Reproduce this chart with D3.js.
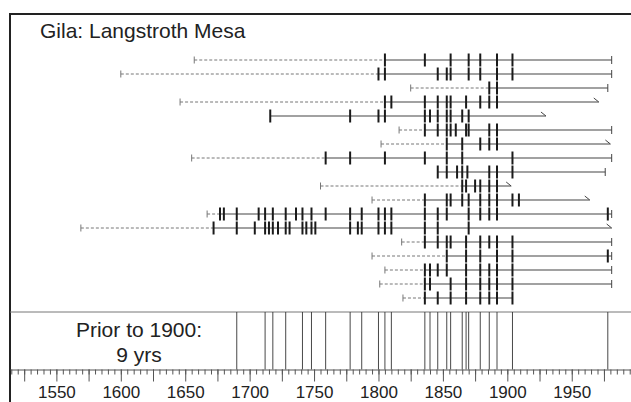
<!DOCTYPE html>
<html>
<head>
<meta charset="utf-8">
<script src="https://cdn.jsdelivr.net/npm/d3@7"></script>
<style>
  body { margin: 0; background: #fff; }
  svg { display: block; font-family: "Liberation Sans", Arial, sans-serif; }
</style>
</head>
<body>
<svg id="chart" width="631" height="402"></svg>
<script>
// site title and summary
const siteName = "Gila: Langstroth Mesa";
const summaryLines = ["Prior to 1900:", "9 yrs"];

// one entry per tree, top to bottom
const innerYears = [1657, 1600, 1825, 1646, 1716, 1816, 1802, 1655, 1846, 1755, 1795, 1667, 1569, 1818, 1795, 1805, 1801, 1819];
const outerYears = [1981, 1981, 1978, 1971, 1930, 1981, 1980, 1981, 1976, 1903, 1964, 1981, 1981, 1981, 1981, 1981, 1981, 1904];
// "bark" = vertical end bar, "nobark" = slanted end, "none" = no mark
const outerTypes = ["bark", "bark", "bark", "nobark", "nobark", "bark", "nobark", "bark", "bark", "nobark", "nobark", "bark", "nobark", "bark", "bark", "bark", "bark", "none"];
const scarYears = [
  [1805, 1836, 1856, 1870, 1879, 1892, 1904],
  [1800, 1805, 1846, 1853, 1856, 1870, 1879, 1892, 1904],
  [1886, 1892],
  [1805, 1810, 1836, 1846, 1853, 1856, 1868, 1879, 1886, 1892],
  [1716, 1778, 1800, 1805, 1836, 1840, 1846, 1853, 1856, 1865, 1870],
  [1836, 1846, 1853, 1856, 1860, 1868, 1870, 1886, 1892],
  [1853, 1865, 1879, 1886, 1892],
  [1759, 1778, 1805, 1836, 1853, 1865, 1904],
  [1846, 1853, 1861, 1865, 1869, 1886, 1892, 1904],
  [1865, 1868, 1875, 1879, 1886, 1892],
  [1836, 1853, 1856, 1865, 1870, 1879, 1886, 1892, 1904, 1909],
  [1677, 1680, 1690, 1707, 1712, 1718, 1728, 1736, 1741, 1748, 1759, 1778, 1787, 1800, 1805, 1810, 1836, 1846, 1853, 1870, 1879, 1886, 1892, 1978],
  [1672, 1690, 1704, 1712, 1715, 1718, 1722, 1728, 1731, 1741, 1744, 1748, 1751, 1778, 1784, 1787, 1800, 1805, 1810, 1836, 1846, 1870],
  [1836, 1846, 1853, 1856, 1868, 1879, 1886, 1892, 1904],
  [1853, 1868, 1879, 1892, 1904, 1978],
  [1836, 1840, 1846, 1853, 1868, 1879, 1886, 1892, 1904],
  [1836, 1840, 1856, 1868, 1879, 1886, 1892, 1904],
  [1836, 1846, 1856, 1868, 1879, 1886, 1892, 1904]
];

// composite fire years
const compositeYears = [1690, 1712, 1718, 1728, 1741, 1748, 1759, 1778, 1787, 1800, 1805, 1810, 1836, 1840, 1846, 1853, 1856, 1865, 1868, 1870, 1879, 1886, 1892, 1904, 1978];

// axis ticks
const minorTicks = d3.range(1515, 2000, 5);
const majorTicks = d3.range(1525, 2000, 25);

const svg = d3.select("#chart");
const x = d3.scaleLinear().domain([1514, 1996]).range([10, 631]);
const y = d3.scalePoint().domain(d3.range(innerYears.length)).range([60, 298]);

const ink = "#222";

// frame
svg.append("line").attr("x1", 10).attr("x2", 10).attr("y1", 13).attr("y2", 402)
  .attr("stroke", ink).attr("stroke-width", 2);
svg.append("line").attr("x1", 10).attr("x2", 631).attr("y1", 14).attr("y2", 14)
  .attr("stroke", ink).attr("stroke-width", 2);

svg.append("text").text(siteName)
  .attr("x", 40).attr("y", 38)
  .attr("font-size", 21).attr("fill", ink);

// tree rows
const rows = svg.append("g");
innerYears.forEach((inner, i) => {
  const yy = y(i);
  const scars = scarYears[i];
  const recStart = scars[0];
  const g = rows.append("g");

  if (recStart > inner) {
    g.append("line")
      .attr("x1", x(inner)).attr("x2", x(recStart))
      .attr("y1", yy).attr("y2", yy)
      .attr("stroke", "#777").attr("stroke-width", 1)
      .attr("stroke-dasharray", "3,2");
    g.append("line")
      .attr("x1", x(inner)).attr("x2", x(inner))
      .attr("y1", yy - 3.5).attr("y2", yy + 3.5)
      .attr("stroke", "#777").attr("stroke-width", 1);
  }

  g.append("line")
    .attr("x1", x(recStart)).attr("x2", x(outerYears[i]))
    .attr("y1", yy).attr("y2", yy)
    .attr("stroke", "#444").attr("stroke-width", 1.1);

  const ox = x(outerYears[i]);
  if (outerTypes[i] === "bark") {
    g.append("line")
      .attr("x1", ox).attr("x2", ox)
      .attr("y1", yy - 4).attr("y2", yy + 4)
      .attr("stroke", "#444").attr("stroke-width", 1);
  } else if (outerTypes[i] === "nobark") {
    g.append("line")
      .attr("x1", ox - 5).attr("x2", ox)
      .attr("y1", yy - 4).attr("y2", yy)
      .attr("stroke", "#444").attr("stroke-width", 1);
  }

  g.selectAll("line.scar").data(scars).join("line")
    .attr("class", "scar")
    .attr("x1", d => x(d)).attr("x2", d => x(d))
    .attr("y1", yy - 6.5).attr("y2", yy + 6.5)
    .attr("stroke", "#1a1a1a").attr("stroke-width", 2);
});

// composite
const compTop = 312, compBottom = 369.5;
svg.append("line").attr("x1", 10).attr("x2", 631).attr("y1", compTop).attr("y2", compTop)
  .attr("stroke", "#777").attr("stroke-width", 1);
svg.append("g").selectAll("line").data(compositeYears).join("line")
  .attr("x1", d => x(d)).attr("x2", d => x(d))
  .attr("y1", compTop).attr("y2", compBottom)
  .attr("stroke", "#333").attr("stroke-width", 0.9);

svg.append("g").selectAll("text").data(summaryLines).join("text")
  .text(d => d)
  .attr("x", 139).attr("y", (d, i) => 337 + i * 25)
  .attr("text-anchor", "middle")
  .attr("font-size", 21).attr("fill", ink);

// axis
const minorAxis = svg.append("g").attr("transform", `translate(0,${compBottom})`)
  .call(d3.axisBottom(x).tickValues(minorTicks).tickSize(5).tickSizeOuter(0).tickFormat(""));
const majorAxis = svg.append("g").attr("transform", `translate(0,${compBottom})`)
  .call(d3.axisBottom(x).tickValues(majorTicks).tickSize(12).tickSizeOuter(0).tickPadding(4)
    .tickFormat(d => d % 50 === 0 ? d : ""));
majorAxis.select(".domain").remove();
svg.selectAll(".tick line, .domain").attr("stroke", "#555");
majorAxis.selectAll("text").attr("font-size", 17).attr("fill", ink)
  .attr("font-family", "Liberation Sans, Arial, sans-serif");
</script>
</body>
</html>
